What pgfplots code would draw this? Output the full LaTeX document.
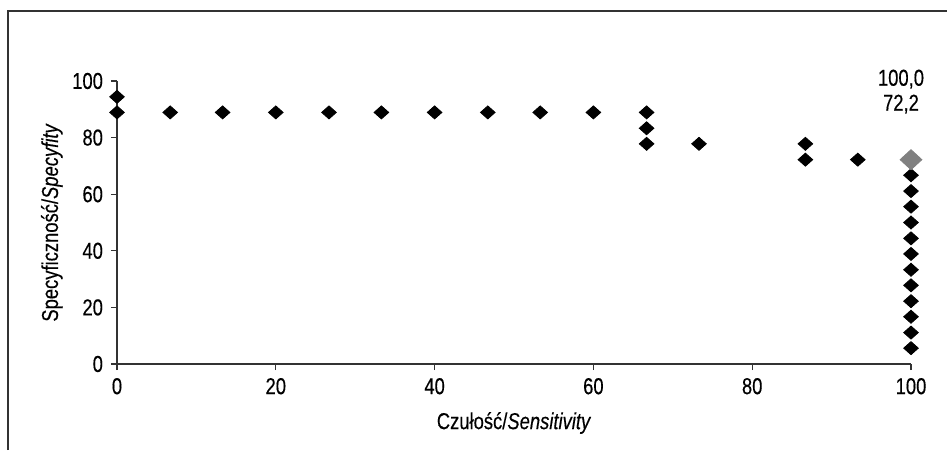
\documentclass[border=0pt]{standalone}
\usepackage{fontspec}
\setmainfont[FakeStretch=0.8, FakeBold=0.3]{Liberation Sans}
\usepackage{pgfplots}
\pgfplotsset{compat=1.18}
\definecolor{pointgray}{HTML}{808080}
\definecolor{axisdark}{HTML}{333333}

\begin{document}
\fontsize{11.5}{12}\selectfont
\begin{tikzpicture}
\begin{axis}[
    scale only axis,
    width=397pt, height=141.5pt,
    xmin=0, xmax=100, ymin=0, ymax=100,
    axis lines=left,
    axis line style={axisdark, line width=0.6pt, -},
    tick style={axisdark, line width=0.6pt},
    tick align=outside,
    major tick length=3pt,
    xtick={0,20,...,100}, ytick={0,20,...,100},
    /pgf/number format/assume math mode=true,
    tick label style={font=\fontsize{11.5}{12}\selectfont},
    xlabel={Czułość/\textit{Sensitivity}},
    ylabel={Specyficzność/\textit{Specyfity}},
    label style={font=\fontsize{11.5}{12}\selectfont},
    xlabel style={at={(axis description cs:0.5,-0.2085)}, anchor=center},
    ylabel style={at={(axis description cs:-0.082,0.5)}, anchor=center, rotate=0},
    clip=false,
]
\addplot[only marks, mark=diamond*, mark size=3.25pt, mark options={xscale=1.5, fill=black, draw=black}] coordinates {
  (0,94.4) (0,88.9) (6.7,88.9) (13.3,88.9) (20,88.9) (26.7,88.9) (33.3,88.9)
  (40,88.9) (46.7,88.9) (53.3,88.9) (60,88.9) (66.7,88.9) (66.7,83.3) (66.7,77.8)
  (73.3,77.8) (86.7,77.8) (86.7,72.2) (93.3,72.2)
  (100,66.7) (100,61.1) (100,55.6) (100,50.0) (100,44.4) (100,38.9)
  (100,33.3) (100,27.8) (100,22.2) (100,16.7) (100,11.1) (100,5.6)
};
\addplot[only marks, mark=diamond*, mark size=5pt, mark options={xscale=1.45, fill=pointgray, draw=pointgray}] coordinates {(100,72.2)};
\node[align=center, font=\fontsize{11.5}{12.5}\selectfont] at (axis cs:100,72.2) [xshift=-5pt, yshift=34pt] {100,0\\72,2};
\end{axis}
\path[use as bounding box] (-58.5pt,-43pt) rectangle (415pt,182pt);
\draw[line width=0.75pt, black!80] (-54.5pt,-43pt) -- (-54.5pt,176.5pt) -- (415pt,176.5pt);
\end{tikzpicture}
\end{document}
